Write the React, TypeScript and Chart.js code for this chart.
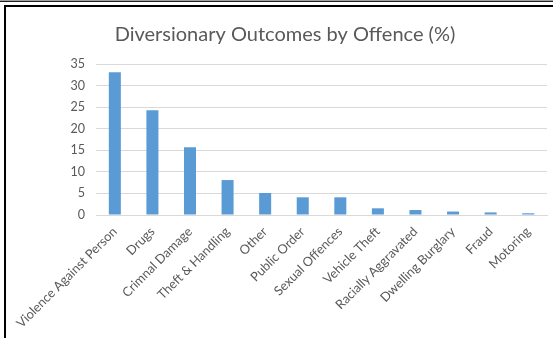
import React, { useEffect, useRef } from "react";
import { Chart, registerables } from "chart.js";

Chart.register(...registerables);

const categories = [
  "Violence Against Person",
  "Drugs",
  "Crimnal Damage",
  "Theft & Handling",
  "Other",
  "Public Order",
  "Sexual Offences",
  "Vehicle Theft",
  "Racially Aggravated",
  "Dwelling Burglary",
  "Fraud",
  "Motoring",
];
const values = [33.1, 24.3, 15.7, 8.1, 5.1, 4.1, 4.1, 1.55, 1.15, 0.8, 0.6, 0.4];
const yTicks = [0, 5, 10, 15, 20, 25, 30, 35];
const title = "Diversionary Outcomes by Offence (%)";

export default function App() {
  const ref = useRef<HTMLCanvasElement | null>(null);

  useEffect(() => {
    document.body.style.margin = "0";
    document.body.style.overflow = "hidden";
    const ctx = ref.current!;
    const chart = new Chart(ctx, {
      type: "bar",
      data: {
        labels: categories,
        datasets: [
          {
            data: values,
            backgroundColor: "#5B9BD5",
            borderWidth: 0,
            barPercentage: 0.32,
            categoryPercentage: 1,
          },
        ],
      },
      options: {
        animation: false,
        responsive: false,
        maintainAspectRatio: false,
        layout: { padding: { left: 17, right: 6, top: 0, bottom: 0 } },
        plugins: {
          legend: { display: false },
          tooltip: { enabled: false },
          title: {
            display: true,
            text: title,
            color: "#595959",
            font: { family: "Lato", size: 20, weight: "normal" },
            padding: { top: 16, bottom: 17 },
          },
        },
        scales: {
          x: {
            grid: { display: false, drawTicks: false },
            border: { display: true, color: "#D9D9D9", width: 1 },
            ticks: {
              color: "#595959",
              font: { family: "Lato", size: 12.8 },
              minRotation: 45,
              maxRotation: 45,
              autoSkip: false,
              padding: 9,
            },
            afterFit: (s: any) => {
              s.height = 123;
            },
          },
          y: {
            min: 0,
            max: 35,
            afterBuildTicks: (s: any) => {
              s.ticks = yTicks.map((v) => ({ value: v }));
            },
            grid: { color: "#D9D9D9", drawTicks: false },
            border: { display: false },
            ticks: {
              color: "#595959",
              font: { family: "Lato", size: 12.5 },
              padding: 11,
            },
            afterFit: (s: any) => {
              s.width = 73;
            },
          },
        },
      },
    });
    return () => chart.destroy();
  }, []);

  return (
    <div
      style={{
        position: "absolute",
        left: 0,
        top: 0,
        width: 553,
        height: 338,
        background: "#fff",
        overflow: "hidden",
      }}
    >
      <div
        style={{
          position: "absolute",
          left: 0,
          top: 0,
          width: 553,
          height: 1,
          background: "#a0a0a0",
        }}
      />
      <div
        style={{
          position: "absolute",
          left: 0,
          top: 1,
          width: 553,
          height: 1,
          background: "#202020",
        }}
      />
      <div
        style={{
          position: "absolute",
          left: 4,
          top: 5,
          width: 600,
          height: 400,
          borderLeft: "2px solid #000",
          borderTop: "2px solid #000",
          boxSizing: "border-box",
        }}
      />
      <canvas
        ref={ref}
        width={547}
        height={331}
        style={{ position: "absolute", left: 6, top: 7, width: 547, height: 331 }}
      />
    </div>
  );
}
